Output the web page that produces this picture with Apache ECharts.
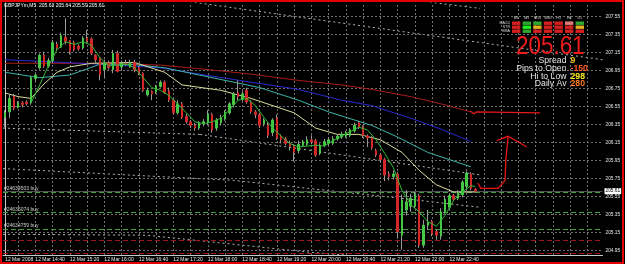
<!DOCTYPE html>
<html><head><meta charset="utf-8">
<script src="https://cdn.jsdelivr.net/npm/echarts@6/dist/echarts.min.js"></script>
<style>html,body{margin:0;padding:0;background:#000;}#c{width:625px;height:264px;}</style>
</head><body><div id="c"></div>
<script>
// ---------- DATA ----------
const symbolTitle = 'GBPJPYm,M5  205.63 205.64 205.59 205.61';
const firstBarTime = [14, 5];          // 12 Mar 2008 14:05, M5 bars
const dateLabel = '12 Mar 2008';
const dayPrefix = '12 Mar ';
// [open, close, low, high]
const barOHLC = [
[206.43,206.48,206.32,206.51],[206.49,206.64,206.42,206.68],[206.66,206.53,206.51,206.69],[206.54,206.59,206.53,206.61],
[206.59,206.57,206.54,206.61],[206.60,206.58,206.56,206.62],[206.59,206.87,206.57,206.89],[206.86,206.90,206.83,206.93],
[206.98,207.12,206.96,207.14],[207.12,207.00,206.98,207.16],[207.00,207.06,206.98,207.09],[207.06,207.26,207.03,207.29],
[207.24,207.20,207.18,207.27],[207.21,207.34,207.20,207.37],[207.32,207.27,207.24,207.53],[207.28,207.16,207.13,207.29],
[207.26,207.18,207.16,207.28],[207.22,207.19,207.17,207.24],[207.20,207.31,207.18,207.33],[207.31,207.28,207.26,207.40],
[207.30,207.14,207.12,207.32],[207.12,207.07,207.04,207.13],[207.09,206.90,206.84,207.10],[206.96,207.03,206.87,207.07],
[207.03,206.98,206.96,207.06],[206.96,207.14,206.92,207.18],[207.14,206.94,206.93,207.17],[206.99,207.03,206.96,207.06],
[207.03,207.02,207.00,207.07],[206.99,207.04,206.98,207.07],[207.04,206.96,206.93,207.07],[206.98,206.92,206.90,207.00],
[206.92,206.73,206.71,206.93],[206.68,206.73,206.66,206.76],[206.72,206.69,206.62,206.73],[206.71,206.77,206.69,206.79],
[206.77,206.82,206.76,206.84],[206.82,206.71,206.69,206.84],[206.72,206.62,206.60,206.76],[206.62,206.48,206.46,206.64],
[206.48,206.58,206.46,206.62],[206.58,206.43,206.41,206.60],[206.44,206.38,206.36,206.47],[206.38,206.34,206.31,206.40],
[206.34,206.31,206.28,206.37],[206.31,206.37,206.29,206.39],[206.36,206.38,206.33,206.41],[206.37,206.46,206.34,206.51],
[206.46,206.29,206.26,206.48],[206.31,206.40,206.28,206.42],[206.37,206.42,206.34,206.46],[206.41,206.49,206.39,206.51],
[206.48,206.58,206.46,206.60],[206.57,206.69,206.54,206.71],[206.70,206.66,206.62,206.84],[206.63,206.69,206.61,206.72],
[206.73,206.60,206.58,206.76],[206.60,206.49,206.47,206.62],[206.49,206.46,206.42,206.51],[206.46,206.34,206.31,206.48],
[206.36,206.40,206.33,206.42],[206.34,206.23,206.20,206.37],[206.26,206.40,206.22,206.42],[206.42,206.20,206.18,206.46],
[206.22,206.18,206.14,206.24],[206.19,206.14,206.12,206.21],[206.14,206.11,206.06,206.17],[206.11,206.04,205.94,206.13],
[206.06,206.13,206.03,206.17],[206.12,206.16,206.10,206.18],[206.13,206.18,206.11,206.22],[206.18,206.16,206.13,206.23],
[206.17,206.01,205.99,206.19],[206.03,206.12,206.01,206.14],[206.12,206.16,206.10,206.19],[206.14,206.18,206.12,206.21],
[206.14,206.19,206.12,206.22],[206.19,206.22,206.17,206.24],[206.21,206.24,206.19,206.27],[206.22,206.26,206.20,206.28],
[206.23,206.29,206.21,206.31],[206.28,206.34,206.26,206.37],[206.37,206.32,206.30,206.39],[206.32,206.23,206.20,206.34],
[206.22,206.20,206.10,206.24],[206.20,206.09,206.07,206.22],[206.06,206.01,205.99,206.08],[206.01,205.96,205.93,206.03],
[205.96,205.79,205.72,205.98],[205.80,205.77,205.73,205.83],[205.77,205.80,205.74,205.84],[205.80,205.16,205.09,205.82],
[205.12,205.51,204.96,205.57],[205.40,205.49,205.34,205.62],[205.44,205.53,205.38,205.58],[205.45,205.57,205.42,205.60],
[205.56,205.01,204.98,205.58],[205.01,205.23,204.98,205.29],[205.23,205.26,205.18,205.40],[205.27,205.14,205.11,205.29],
[205.16,205.12,205.07,205.18],[205.11,205.38,205.07,205.42],[205.38,205.52,205.36,205.56],[205.43,205.56,205.41,205.58],
[205.56,205.52,205.50,205.58],[205.53,205.59,205.51,205.62],[205.57,205.71,205.54,205.73],[205.66,205.81,205.63,205.83],
[205.80,205.64,205.62,205.82],[205.63,205.61,205.59,205.64]
];
// moving averages: [barIndex, price]
const maMaroon = [[0,207.03],[22,207.03],[36,207.01],[45,206.97],[57,206.91],[68,206.84],[78,206.79],[85,206.74],[94,206.66],[101,206.58],[108,206.49]];
const maBlue   = [[0,207.07],[22,207.02],[36,206.98],[45,206.91],[57,206.82],[68,206.74],[78,206.62],[85,206.56],[94,206.42],[101,206.30],[108,206.16]];
const maTeal   = [[0,206.93],[8,206.87],[15,206.90],[22,207.02],[29,207.02],[37,206.98],[45,206.90],[59,206.76],[68,206.62],[75,206.49],[85,206.34],[91,206.21],[98,206.04],[108,205.88]];
const maKhaki  = [[0,206.70],[3,206.66],[6,206.64],[9,206.80],[12,206.93],[15,206.99],[20,207.03],[30,207.04],[37,206.93],[41,206.79],[50,206.73],[57,206.64],[67,206.48],[72,206.31],[77,206.24],[82,206.24],[87,206.18],[92,206.04],[96,205.84],[100,205.68],[104,205.60],[109,205.60]];
const maGreen  = [[6,206.59],[8,206.79],[10,207.00],[12,207.18],[14,207.27],[16,207.24],[18,207.27],[20,207.23],[22,207.09],[24,207.00],[26,207.01],[28,207.02],[30,206.98],[32,206.87],[34,206.76],[36,206.73],[38,206.67],[40,206.58],[42,206.48],[44,206.38],[46,206.36],[48,206.38],[50,206.42],[52,206.51],[54,206.62],[56,206.64],[58,206.56],[60,206.43],[62,206.31],[64,206.22],[66,206.14],[68,206.10],[70,206.11],[72,206.12],[74,206.11],[76,206.17],[78,206.22],[80,206.27],[82,206.32],[84,206.29],[86,206.18],[88,206.03],[90,205.87],[92,205.62],[94,205.46],[96,205.38],[98,205.27],[100,205.22],[102,205.34],[104,205.51],[106,205.60],[108,205.67],[109,205.66]];
// dotted channel lines (chart objects): [barIndex, price]
const channelLines = [
  [[40.5,207.73],[138.5,207.07]],
  [[95.0,207.73],[110.1,207.64]],
  [[-0.5,206.31],[45.2,206.24]],
  [[45.2,206.24],[110.1,205.79]],
  [[-0.5,205.86],[52.8,205.73],[89.9,205.54],[110.1,205.43]],
  [[-0.5,205.13],[32.9,205.12],[70.7,204.93],[78.8,204.90]]
];
const orderNames  = ['#24634503 buy', '#24635074 buy', '#24634759 buy'];
const orderPrices = [205.60, 205.37, 205.19];
const stopPrices  = [205.06, 204.92];
const bidPrice = 205.61;
const yTicks = [207.55,207.35,207.15,206.95,206.75,206.55,206.35,206.15,205.95,205.75,205.55,205.35,205.15,204.95];
// hand-drawn red annotation: [barIndex, price]
const drawnLevel = [[107.8,206.50],[108.7,206.47],[109.2,206.49],[124.0,206.48]];
const drawnShaft = [[109.6,205.70],[110.3,205.64],[114.3,205.64],[115.9,205.73],[116.1,205.96],[116.6,206.22]];
const drawnHead  = [[114.0,206.17],[116.6,206.22],[121.0,206.10]];
// info panel
const tfLabels  = ['M1','M5','M15','M30','H1','H4','D1'];
const rowLabels = ['MACD','STR','EMA'];
const signalGrid = [
  ['r','g','g','r','r','p','g'],
  ['r','G','y','r','r','r','y'],
  ['r','g','r','r','r','r','r']
];
const infoLabels = ['Spread', 'Pips to Open', 'Hi to Low', 'Daily Av'];
const infoValues = ['9', '-150', '298', '280'];
const infoColors = ['#f0c419', '#ff5a1e', '#ffee22', '#ff7a22'];
const bigPrice = '205.61';

// ---------- CHART ----------
const N = 139;
const pad = n => (n < 10 ? '0' : '') + n;
const cats = [];
for (let i = 0; i < N; i++) {
  const m = firstBarTime[0] * 60 + firstBarTime[1] + 5 * i;
  cats.push(pad(Math.floor(m / 60) % 24) + ':' + pad(m % 60));
}
const FONT = 'Liberation Sans';
const wickData = barOHLC.map(d => d);
const bodyData = barOHLC.map(d => [d[0], d[1], Math.min(d[0], d[1]), Math.max(d[0], d[1])]);
const vGrid = [];
for (let i = 3; i < N; i += 4) vGrid.push({ xAxis: i });

const lineS = (data, color, extra) => Object.assign({
  type: 'line', xAxisIndex: 1, yAxisIndex: 0, data, showSymbol: false, symbol: 'none',
  silent: true, animation: false, lineStyle: { color, width: 1 }, z: 5
}, extra || {});

const series = [];
// grid
series.push({
  type: 'line', xAxisIndex: 1, data: [], silent: true, z: 1,
  markLine: {
    silent: true, symbol: ['none', 'none'], animation: false, precision: 2,
    lineStyle: { type: [2, 2], color: '#6f6f6f', width: 1 },
    label: { show: true, position: 'end', distance: 3, color: '#e6e6e6', fontSize: 4.8, fontFamily: FONT,
      formatter: p => Number(p.value).toFixed(2) },
    data: yTicks.map(v => ({ yAxis: v }))
  }
});
series.push({
  type: 'line', xAxisIndex: 1, data: [], silent: true, z: 1,
  markLine: {
    silent: true, symbol: ['none', 'none'], animation: false,
    lineStyle: { type: [2, 2], color: '#6f6f6f', width: 1 },
    label: { show: false }, data: vGrid
  }
});
// channels
channelLines.forEach(c => series.push(lineS(c, '#b4b4b4', { lineStyle: { color: '#b4b4b4', width: 1, type: [2, 3] }, z: 2 })));
// order / stop / bid lines
series.push({
  type: 'line', xAxisIndex: 1, data: [], silent: true, z: 3,
  markLine: {
    silent: true, symbol: ['none', 'none'], animation: false,
    data: [
      { yAxis: bidPrice, lineStyle: { color: '#4a525a', type: 'solid', width: 1 },
        label: { show: true, position: 'end', distance: 2, formatter: bidPrice.toFixed(2), color: '#000', backgroundColor: '#fff',
          fontSize: 4.8, fontFamily: FONT, padding: [1, 1, 0, 1] } },
      ...orderPrices.map((p, k) => ({ yAxis: p, lineStyle: { color: '#3f9f3f', type: [5, 3], width: 1 },
        label: { show: true, position: 'insideStartTop', distance: 1, formatter: orderNames[k], color: '#d0d0d0', fontSize: 5, fontFamily: FONT } })),
      ...stopPrices.map(p => ({ yAxis: p, lineStyle: { color: '#a31515', type: [5, 3], width: 1 }, label: { show: false } }))
    ]
  }
});
// moving averages
series.push(lineS(maMaroon, '#a81c1c'));
series.push(lineS(maBlue, '#2a2ad0'));
series.push(lineS(maTeal, '#3fb3aa'));
series.push(lineS(maKhaki, '#dcdc9c'));
// candles
series.push({
  type: 'candlestick', xAxisIndex: 0, yAxisIndex: 0, data: wickData, barWidth: 1, z: 6, silent: true, animation: false,
  itemStyle: { color: '#9a9a9a', color0: '#9a9a9a', borderColor: '#9a9a9a', borderColor0: '#9a9a9a', borderColorDoji: '#9a9a9a', borderWidth: 1 }
});
series.push({
  type: 'candlestick', xAxisIndex: 0, yAxisIndex: 0, data: bodyData, barWidth: 2, z: 7, silent: true, animation: false,
  itemStyle: { color: '#45c845', color0: '#d42828', borderColor: '#45c845', borderColor0: '#d42828', borderColorDoji: '#bbbbbb', borderWidth: 1 }
});
series.push(lineS(maGreen, '#33b833', { z: 8 }));
// hand drawn arrow
[drawnLevel, drawnShaft, drawnHead].forEach(d => series.push(lineS(d, '#e81818', { lineStyle: { color: '#e81818', width: 1.3 }, z: 9 })));

// info panel graphics
const graphic = [];
graphic.push({ type: 'text', x: 4, y: 3, style: { text: symbolTitle, fill: '#ffffff', fontSize: 5, fontFamily: FONT, textVerticalAlign: 'top', verticalAlign: 'top' }, z: 20 });
const colX0 = 512, colDX = 10.6, cellW = 8.4, rowY0 = 21.5, rowDY = 4, cellH = 3.4;
const sigColor = { r: '#d42020', g: '#2fa82f', G: '#22ee22', y: '#e0b020', p: '#e27a7a' };
tfLabels.forEach((t, c) => graphic.push({ type: 'text', x: colX0 + c * colDX + cellW / 2, y: 17.5,
  style: { text: t, fill: '#d8d8d8', fontSize: 3.6, fontFamily: FONT, textAlign: 'center', align: 'center', textVerticalAlign: 'middle', verticalAlign: 'middle' }, z: 20 }));
rowLabels.forEach((t, r) => graphic.push({ type: 'text', x: colX0 - 2, y: rowY0 + r * rowDY + cellH / 2,
  style: { text: t, fill: '#d8d8d8', fontSize: 3.6, fontFamily: FONT, textAlign: 'right', align: 'right', textVerticalAlign: 'middle', verticalAlign: 'middle' }, z: 20 }));
signalGrid.forEach((row, r) => row.forEach((s, c) => graphic.push({ type: 'rect',
  shape: { x: colX0 + c * colDX, y: rowY0 + r * rowDY, width: cellW, height: cellH }, style: { fill: sigColor[s] }, z: 20 })));
graphic.push({ type: 'text', x: 584.5, y: 46.5, scaleX: 0.86, style: { text: bigPrice, fill: '#ee1c1c', fontSize: 26, fontFamily: FONT,
  textAlign: 'right', align: 'right', textVerticalAlign: 'middle', verticalAlign: 'middle' }, z: 20 });
infoLabels.forEach((t, k) => {
  const y = 61 + k * 7.7;
  graphic.push({ type: 'text', x: 566.5, y, style: { text: t, fill: '#e4e4e4', fontSize: 8.7, fontFamily: FONT,
    textAlign: 'right', align: 'right', textVerticalAlign: 'middle', verticalAlign: 'middle' }, z: 20 });
  graphic.push({ type: 'text', x: 570.5, y, style: { text: infoValues[k], fill: infoColors[k], fontSize: 8.7, fontWeight: 'bold', fontFamily: FONT,
    textAlign: 'left', align: 'left', textVerticalAlign: 'middle', verticalAlign: 'middle' }, z: 20 });
});
graphic.push({ type: 'rect', shape: { x: 1, y: 1, width: 622, height: 262 }, style: { fill: 'none', stroke: '#e30000', lineWidth: 2 }, z: 30 });

const chart = echarts.init(document.getElementById('c'), null, { renderer: 'canvas' });
chart.setOption({
  backgroundColor: '#000000',
  animation: false,
  grid: { left: 3, right: 22.5, top: 3, bottom: 9, containLabel: false },
  xAxis: [
    { type: 'category', data: cats, boundaryGap: true,
      axisLine: { show: true, lineStyle: { color: '#c8c8c8', width: 1 } }, axisTick: { show: false }, splitLine: { show: false },
      axisLabel: { interval: 0, margin: 2, color: '#e8e8e8', fontSize: 5, fontFamily: FONT, align: 'left',
        formatter: (v, i) => i === 0 ? dateLabel : ((i % 8 === 7 && i < barOHLC.length) ? dayPrefix + v : '') } },
    { type: 'value', min: -0.5, max: N - 0.5, show: false }
  ],
  yAxis: [{ type: 'value', min: 204.90, max: 207.70, position: 'right',
    axisLine: { show: true, lineStyle: { color: '#c8c8c8', width: 1 } }, axisTick: { show: false },
    axisLabel: { show: false }, splitLine: { show: false } }],
  series,
  graphic
});
</script></body></html>
